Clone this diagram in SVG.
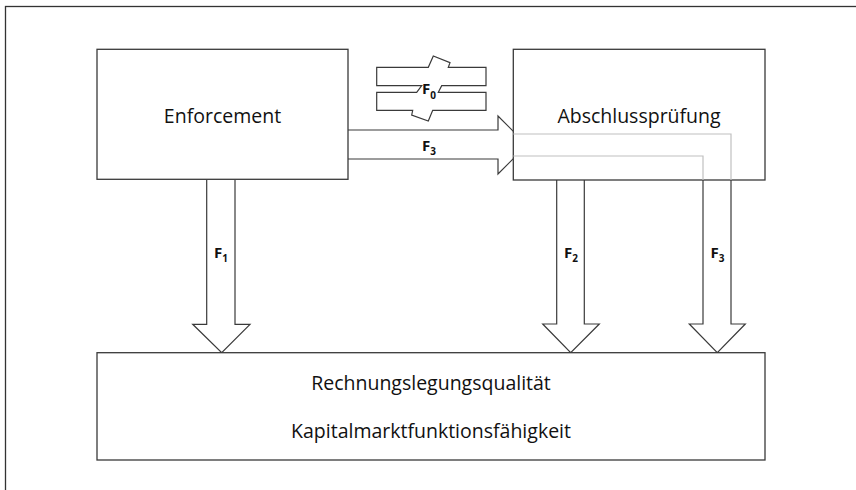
<svg xmlns="http://www.w3.org/2000/svg" width="856" height="490" viewBox="0 0 856 490">
<style>
.box{fill:#fff;stroke:#3a3a3a;stroke-width:1.3}
.arr{fill:#fff;stroke:#3a3a3a;stroke-width:1.2;stroke-linejoin:miter}
.gray{fill:none;stroke:#c0c0c0;stroke-width:1.2}
.lbl{font-family:"Open Sans","Noto Sans",sans-serif;font-size:19.5px;fill:#111;text-anchor:middle}
.f{font-family:"Open Sans","Noto Sans",sans-serif;font-weight:bold;font-size:15px;fill:#111}
.sub{font-size:10px}
</style>
<rect x="5.5" y="6.5" width="860" height="500" fill="none" stroke="#333" stroke-width="1.3"/>
<g id="connectors">
  <g id="f0">
    <path class="arr" d="M376.7,67.3 H428.3 L433.3,56 L450,62.7 L448.3,67.3 H486 V85.7 H441.7 L438.3,92.3 H486 V110.3 H432.7 L428.3,121 L411.7,115 L412.7,110.3 H376.7 V92.3 H416.7 L421.7,85.7 H376.7 Z"/>
    <text class="f" x="422" y="94">F<tspan class="sub" dy="4.5">0</tspan></text>
  </g>
  <g id="f3h">
    <path class="arr" d="M348,130 H498 V116 L527,145 L498,174 V159 H348"/>
    <text class="f" x="422" y="150.5">F<tspan class="sub" dy="4.5">3</tspan></text>
  </g>
  <g id="f1">
    <path class="arr" d="M206.7,180 V324.3 H192.7 L221.7,352.7 L250,324.3 H235 V180"/>
    <text class="f" x="214" y="257.5">F<tspan class="sub" dy="4.5">1</tspan></text>
  </g>
  <g id="f2">
    <path class="arr" d="M556.7,180 V324 H542.7 L570.7,352.7 L599.3,324 H584.3 V180"/>
    <text class="f" x="564" y="257.5">F<tspan class="sub" dy="4.5">2</tspan></text>
  </g>
  <g id="f3v">
    <path class="arr" d="M703,180 V324 H689.3 L717.3,352.7 L745.3,324 H731 V180"/>
    <text class="f" x="710.5" y="257.5">F<tspan class="sub" dy="4.5">3</tspan></text>
  </g>
</g>
<g id="enforcement">
  <rect class="box" x="97" y="49.3" width="251" height="130"/>
  <text class="lbl" x="222.5" y="123">Enforcement</text>
</g>
<g id="abschlusspruefung">
  <rect class="box" x="513.3" y="49.3" width="251.7" height="130.7"/>
  <text class="lbl" x="639" y="123">Abschlussprüfung</text>
  <path class="gray" d="M513.3,134 H731 V180 M513.3,156 H703 V180"/>
</g>
<g id="qualitaet">
  <rect class="box" x="97" y="352.7" width="668" height="107.3"/>
  <text class="lbl" x="431" y="390">Rechnungslegungsqualität</text>
  <text class="lbl" x="431" y="438">Kapitalmarktfunktionsfähigkeit</text>
</g>
</svg>
